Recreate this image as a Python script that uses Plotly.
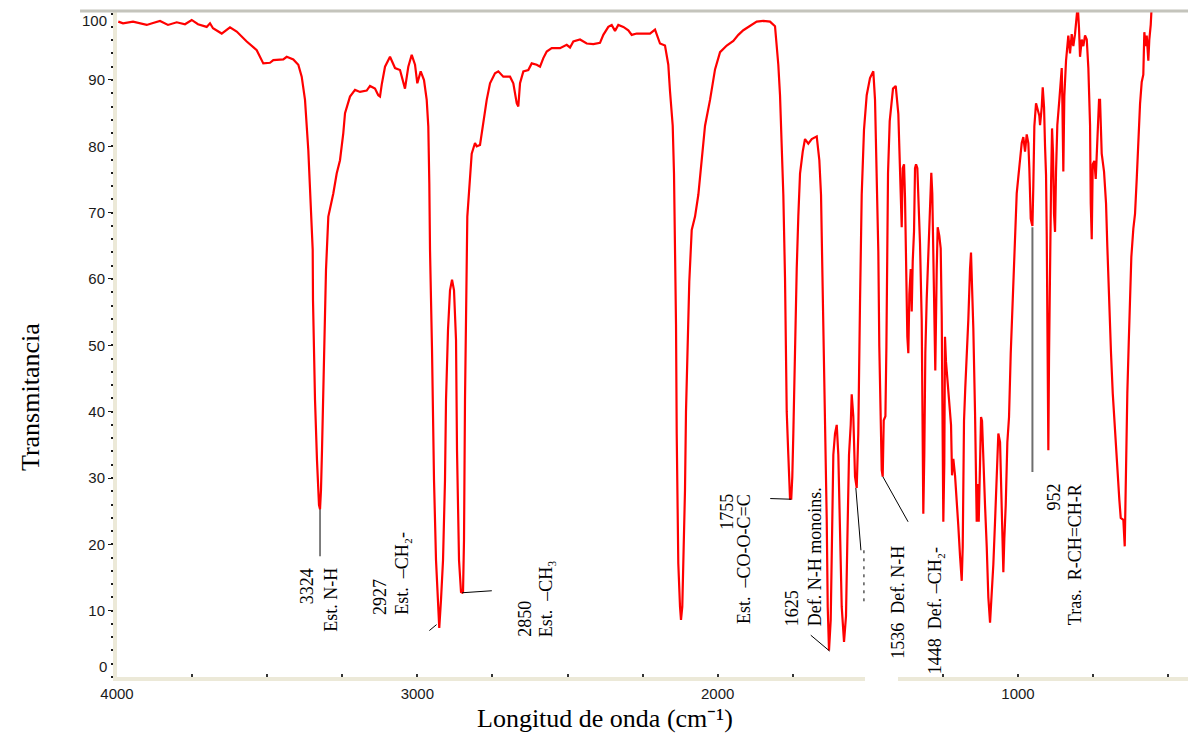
import plotly.graph_objects as go

# IR spectrum: wavenumber (cm-1) and transmittance (%)
wavenumber = [
    3995.7, 3980.0, 3946.7, 3901.1, 3880.1, 3856.8, 3830.2, 3801.2, 3773.6, 3751.3,
    3730.3, 3701.3, 3690.3, 3680.4, 3651.4, 3623.8, 3601.4, 3568.1, 3534.8, 3512.9,
    3490.6, 3479.6, 3446.3, 3434.9, 3412.9, 3396.3, 3385.0, 3374.0, 3363.0, 3357.4,
    3351.7, 3348.4, 3347.4, 3340.7, 3334.1, 3327.4, 3324.0, 3320.8, 3317.4, 3310.8,
    3304.1, 3296.4, 3279.8, 3268.5, 3257.5, 3246.5, 3240.8, 3224.2, 3207.5, 3190.9,
    3168.6, 3157.6, 3141.0, 3130.0, 3124.3, 3118.6, 3107.6, 3091.0, 3074.3, 3057.7,
    3041.1, 3030.1, 3018.7, 3007.7, 3000.1, 2988.8, 2977.8, 2968.8, 2963.5, 2960.1,
    2957.8, 2951.1, 2944.5, 2937.8, 2931.2, 2927.0, 2921.2, 2914.5, 2907.9, 2904.5,
    2897.9, 2891.2, 2884.5, 2877.9, 2871.2, 2867.9, 2861.2, 2854.6, 2850.0, 2847.9,
    2844.6, 2841.3, 2833.6, 2824.6, 2819.0, 2808.0, 2802.3, 2791.3, 2785.6, 2778.0,
    2769.0, 2758.0, 2741.4, 2730.4, 2713.7, 2691.4, 2680.4, 2669.1, 2663.8, 2658.1,
    2647.1, 2630.5, 2619.2, 2602.5, 2591.5, 2580.5, 2569.2, 2552.6, 2525.0, 2502.6,
    2491.6, 2480.6, 2458.3, 2436.0, 2414.0, 2391.8, 2380.7, 2364.1, 2352.8, 2341.8,
    2330.8, 2314.1, 2297.5, 2286.2, 2269.6, 2247.5, 2225.3, 2208.6, 2192.0, 2175.4,
    2164.4, 2158.7, 2149.7, 2145.4, 2142.0, 2138.7, 2136.4, 2134.4, 2131.1, 2125.4,
    2122.1, 2117.8, 2114.4, 2108.8, 2105.5, 2101.1, 2094.5, 2086.4, 2075.4, 2064.4,
    2053.1, 2042.1, 2025.4, 2008.8, 1992.1, 1969.8, 1947.9, 1931.2, 1914.6, 1892.3,
    1870.0, 1848.0, 1825.7, 1809.1, 1803.4, 1798.1, 1792.4, 1786.8, 1781.4, 1775.8,
    1772.5, 1770.1, 1764.8, 1759.1, 1755.0, 1751.5, 1748.1, 1742.5, 1736.8, 1731.5,
    1725.8, 1716.8, 1709.2, 1698.2, 1686.8, 1670.2, 1661.5, 1655.9, 1651.6, 1648.2,
    1642.6, 1636.9, 1633.6, 1629.3, 1623.6, 1620.3, 1614.9, 1609.3, 1603.6, 1598.3,
    1592.6, 1587.0, 1579.3, 1572.7, 1568.3, 1562.7, 1557.0, 1553.7, 1548.4, 1542.7,
    1537.1, 1531.8, 1526.1, 1520.4, 1512.8, 1503.8, 1492.8, 1481.8, 1476.1, 1470.5,
    1465.1, 1461.8, 1457.1, 1453.8, 1450.5, 1447.1, 1441.5, 1438.2, 1432.8, 1427.2,
    1416.2, 1407.2, 1398.5, 1395.2, 1390.5, 1387.2, 1383.9, 1379.5, 1376.2, 1372.9,
    1368.5, 1365.2, 1361.8, 1357.2, 1353.9, 1350.5, 1346.2, 1342.9, 1339.5, 1335.2,
    1331.9, 1326.3, 1320.6, 1317.3, 1315.3, 1312.0, 1308.6, 1304.0, 1298.7, 1293.0,
    1288.7, 1285.4, 1282.0, 1278.7, 1275.4, 1270.7, 1267.4, 1262.0, 1257.4, 1254.0,
    1250.7, 1248.7, 1245.4, 1243.1, 1239.7, 1235.4, 1230.7, 1226.4, 1223.0, 1219.7,
    1215.4, 1209.7, 1204.1, 1198.8, 1193.1, 1187.4, 1184.1, 1179.8, 1175.5, 1170.8,
    1165.5, 1159.8, 1156.5, 1153.1, 1148.8, 1143.1, 1137.5, 1134.1, 1130.8, 1126.4,
    1123.1, 1119.8, 1115.4, 1109.8, 1104.1, 1098.8, 1093.1, 1087.5, 1082.1, 1076.5,
    1070.8, 1065.5, 1059.8, 1056.5, 1052.2, 1048.8, 1045.5, 1040.9, 1035.5, 1029.9,
    1024.2, 1017.6, 1010.9, 1004.3, 998.9, 993.3, 987.6, 982.3, 976.6, 971.0,
    965.6, 962.3, 957.6, 954.3, 952.0, 949.0, 945.6, 940.0, 934.3, 929.0,
    926.6, 921.0, 917.7, 913.3, 910.0, 906.7, 904.3, 901.0, 899.0, 896.7,
    893.4, 890.0, 886.7, 883.4, 880.1, 876.7, 873.4, 869.1, 862.4, 857.8,
    854.4, 852.4, 849.1, 845.8, 840.1, 832.5, 826.8, 821.2, 815.8, 810.2,
    804.5, 801.2, 796.9, 793.5, 787.8, 782.5, 776.8, 771.1, 765.8, 760.1,
    757.8, 754.5, 751.2, 745.9, 741.2, 735.8, 730.2, 726.9, 721.3, 713.6,
    706.9, 702.6, 697.9, 693.6, 690.3, 684.6, 679.3, 673.6, 669.3, 662.6,
    658.0, 649.3, 644.7, 640.3, 636.0, 631.3, 627.0, 622.7, 616.0, 610.4,
    604.7, 599.4, 593.7, 588.1, 582.8, 579.4, 574.8, 571.4, 566.1, 562.8,
    558.1, 554.8,
]
transmittance = [
    98.8, 98.55, 98.8, 98.3, 98.6, 98.9, 98.3, 98.7, 98.4, 99.05,
    98.4, 98.0, 98.55, 97.8, 97.0, 97.95, 97.3, 95.8, 94.5, 92.5,
    92.6, 93.0, 93.1, 93.5, 93.1, 92.3, 90.5, 87.0, 79.4, 74.4,
    67.9, 64.4, 56.8, 41.8, 32.7, 25.9, 25.3, 28.2, 34.2, 49.3,
    61.4, 69.4, 72.9, 75.9, 77.9, 82.0, 85.0, 87.5, 88.5, 88.2,
    88.4, 89.1, 88.7, 87.7, 87.5, 89.3, 92.0, 93.5, 91.8, 91.5,
    88.7, 92.0, 93.8, 92.3, 89.5, 91.3, 90.0, 87.0, 83.0, 74.4,
    64.4, 49.3, 29.7, 17.6, 10.1, 7.4, 11.6, 17.6, 29.7, 41.8,
    52.3, 58.3, 59.9, 58.3, 50.8, 34.2, 17.6, 12.8, 12.7, 12.8,
    20.7, 41.8, 69.4, 75.9, 78.9, 80.5, 80.0, 80.2, 82.0, 84.5,
    87.0, 89.5, 91.0, 91.3, 90.5, 90.5, 89.5, 86.5, 86.0, 89.5,
    91.3, 91.5, 92.5, 92.3, 92.0, 93.3, 94.3, 94.8, 94.8, 95.3,
    94.9, 95.8, 96.1, 95.5, 95.4, 95.6, 96.8, 98.0, 98.3, 97.4,
    98.3, 98.0, 97.5, 96.8, 97.0, 97.0, 97.0, 97.6, 95.5, 95.2,
    92.3, 88.3, 83.1, 75.9, 66.1, 53.1, 36.7, 23.7, 17.1, 10.6,
    8.6, 10.6, 17.1, 28.2, 40.0, 49.8, 59.6, 67.4, 69.4, 72.7,
    78.5, 83.1, 87.0, 91.6, 94.2, 95.2, 95.9, 96.8, 97.5, 98.1,
    98.8, 98.9, 98.8, 98.1, 95.5, 92.3, 87.7, 81.1, 72.7, 60.2,
    49.8, 40.0, 33.5, 26.9, 26.9, 30.2, 36.7, 49.8, 61.5, 69.4,
    75.9, 79.2, 81.1, 80.4, 81.1, 81.5, 77.9, 72.7, 62.9, 53.1,
    36.7, 23.7, 10.6, 4.0, 8.6, 20.4, 33.5, 36.7, 38.0, 33.5,
    20.4, 10.6, 5.3, 9.2, 20.4, 33.5, 38.0, 42.6, 39.3, 30.2,
    28.5, 36.7, 56.3, 72.7, 82.5, 87.7, 90.3, 91.3, 87.0, 75.9,
    64.1, 49.8, 40.0, 31.2, 30.2, 38.7, 39.3, 49.8, 75.9, 83.8,
    88.7, 89.1, 84.9, 80.5, 73.5, 67.8, 76.7, 77.3, 72.2, 62.1,
    51.3, 48.8, 57.7, 61.5, 55.1, 62.7, 67.2, 76.7, 77.3, 76.7,
    72.9, 65.3, 53.8, 37.3, 24.6, 33.5, 48.8, 57.0, 64.0, 72.9,
    76.0, 72.9, 64.0, 54.5, 46.2, 61.5, 67.8, 66.5, 64.6, 54.5,
    38.6, 23.4, 32.3, 51.3, 47.5, 45.0, 43.7, 41.2, 38.0, 30.4,
    32.9, 30.4, 27.2, 22.8, 18.3, 14.5, 19.6, 38.6, 43.7, 48.1,
    53.8, 61.5, 64.0, 58.9, 52.6, 39.9, 23.4, 29.1, 23.4, 32.3,
    39.2, 38.6, 31.6, 25.9, 19.6, 12.0, 8.2, 12.0, 17.0, 23.4,
    32.3, 36.7, 35.4, 29.1, 19.6, 15.8, 20.9, 25.9, 35.4, 39.2,
    48.8, 57.7, 66.5, 72.9, 75.4, 77.9, 80.5, 81.4, 79.2, 81.8,
    80.5, 76.7, 69.1, 68.4, 68.0, 74.1, 83.0, 86.5, 85.3, 84.6,
    83.2, 85.9, 88.9, 85.9, 80.0, 75.7, 66.5, 49.8, 34.2, 48.2,
    66.5, 74.1, 82.7, 78.9, 69.8, 67.1, 76.2, 83.2, 87.0, 90.8,
    91.8, 87.0, 76.2, 87.5, 92.9, 96.7, 94.0, 96.9, 95.1, 96.9,
    99.9, 101.3, 97.8, 93.5, 96.1, 95.1, 96.7, 96.1, 91.8, 83.2,
    71.4, 66.0, 77.3, 77.8, 75.1, 80.5, 87.0, 87.0, 78.9, 76.2,
    71.4, 64.9, 57.9, 53.6, 48.8, 42.8, 38.5, 35.3, 32.1, 26.7,
    24.0, 23.7, 19.7, 34.8, 42.8, 50.4, 57.4, 63.3, 67.6, 69.8,
    75.1, 81.6, 86.4, 89.7, 90.8, 97.2, 95.1, 96.7, 92.9, 96.1,
    98.3, 101.3,
]

# Axis tick values
x_ticks = [4000, 3000, 2000, 1000]
y_ticks = [10, 20, 30, 40, 50, 60, 70, 80, 90]

# Band assignments (each label drawn as rotated columns of text)
band_labels = [
    # text, paper x, paper y, vertical anchor
    ("3324", 0.1777, 0.1652, "top"),
    ("Est. N-H", 0.1995, 0.1652, "top"),
    ("2927", 0.2456, 0.0916, "bottom"),
    ("Est.\u00a0\u00a0\u2013CH\u2082-", 0.2664, 0.0916, "bottom"),
    ("2850", 0.3807, 0.0586, "bottom"),
    ("Est.\u00a0\u00a0\u2013CH\u2083", 0.4012, 0.0586, "bottom"),
    ("1755", 0.5693, 0.2763, "top"),
    ("Est.\u00a0\u00a0\u2013CO-O-C=C", 0.5854, 0.2763, "top"),
    ("1625", 0.6305, 0.0751, "bottom"),
    ("Def. N-H monoins.", 0.6524, 0.0751, "bottom"),
    ("1536\u00a0\u00a0Def. N-H", 0.7286, 0.0255, "bottom"),
    ("1448\u00a0\u00a0Def. \u2013CH\u2082-", 0.7635, 0.0030, "bottom"),
    ("952", 0.8749, 0.2913, "top"),
    ("Tras.\u00a0\u00a0R-CH=CH-R", 0.8951, 0.2913, "top"),
]

# Leader lines from band minima to their labels (x0, y0, x1, y1 in data units)
leaders = [
    (3324, 25.3, 3324, 18.2),
    (2960, 7.0, 2936, 7.9),
    (2851, 12.7, 2752, 13.0),
    (1825, 26.9, 1755, 26.8),
    (1690, 6.3, 1627, 3.9),
    (1540, 28.5, 1523, 19.1),
    (1450, 30.2, 1366, 23.4),
]
marker_952 = (952, 67.8, 952, 30.9)

fig = go.Figure()
fig.add_trace(go.Scatter(
    x=wavenumber, y=transmittance, mode="lines",
    line=dict(color="#ff0000", width=2.2),
    hoverinfo="skip", showlegend=False,
))

shapes = []
for x0, y0, x1, y1 in leaders:
    shapes.append(dict(type="line", xref="x", yref="y", x0=x0, y0=y0, x1=x1, y1=y1,
                       line=dict(color="black", width=1)))
shapes.append(dict(type="line", xref="x", yref="y", x0=marker_952[0], y0=marker_952[1],
                   x1=marker_952[2], y1=marker_952[3], line=dict(color="#6e6e6e", width=2)))
# fragment of a covered label
shapes.append(dict(type="line", xref="x", yref="y", x0=1513, y0=19.1, x1=1513, y1=11.3,
                   line=dict(color="black", width=1, dash="3px,5px")))
# white patch interrupting the wavenumber axis
shapes.append(dict(type="rect", xref="paper", yref="paper", x0=0.6984, x1=0.7292,
                   y0=-0.0195, y1=0.198, fillcolor="white", line=dict(width=0),
                   layer="above"))
# grey frame line along the top
shapes.append(dict(type="line", xref="paper", yref="paper", x0=-0.0345, x1=1.0,
                   y0=1.0, y1=1.0, line=dict(color="#c4c4bc", width=3)))

annotations = []
serif = "Liberation Serif, Times New Roman, serif"
for text, px, py, anchor in band_labels:
    annotations.append(dict(text=text, xref="paper", yref="paper", x=px, y=py,
                            xanchor="center", yanchor=anchor, textangle=-90,
                            showarrow=False, borderpad=0,
                            font=dict(family=serif, size=18, color="black")))

sans = "Liberation Sans, Arial, sans-serif"
# end labels of the transmittance scale sit inside the axis span
for text, py in (("100", 0.985), ("0", 0.0165)):
    annotations.append(dict(text=text, xref="paper", yref="paper", x=-0.0084, y=py,
                            xanchor="right", yanchor="middle", showarrow=False,
                            borderpad=0, font=dict(family=sans, size=15, color="#1a1a1a")))

annotations.append(dict(text="Transmitancia", xref="paper", yref="paper",
                        x=-0.0812, y=0.4204, xanchor="center", yanchor="middle",
                        textangle=-90, showarrow=False,
                        font=dict(family=serif, size=26, color="black")))
annotations.append(dict(text="Longitud de onda (cm\u207b\u00b9)", xref="paper", yref="paper",
                        x=0.4556, y=-0.0616, xanchor="center", yanchor="middle",
                        showarrow=False,
                        font=dict(family=serif, size=26, color="black")))

fig.update_layout(
    width=1188, height=736,
    margin=dict(l=117, r=0, t=11, b=59),
    paper_bgcolor="white", plot_bgcolor="white",
    shapes=shapes, annotations=annotations,
    xaxis=dict(
        range=[4000, 434], tickmode="array", tickvals=x_ticks,
        ticktext=[str(v) for v in x_ticks],
        showgrid=False, zeroline=False,
        showline=True, linecolor="#ece9d8", linewidth=4,
        ticks="inside", ticklen=3, tickwidth=2, tickcolor="#333333",
        minor=dict(tickmode="linear", tick0=0, dtick=250, ticks="inside",
                   ticklen=3, tickwidth=2, tickcolor="#333333"),
        tickfont=dict(family=sans, size=15, color="#1a1a1a"),
    ),
    yaxis=dict(
        range=[0, 100.4], tickmode="array", tickvals=y_ticks,
        ticktext=[str(v) for v in y_ticks],
        showgrid=False, zeroline=False,
        showline=True, linecolor="#ece9d8", linewidth=4,
        ticks="outside", ticklen=5, tickwidth=1, tickcolor="#1a1a1a",
        minor=dict(tickmode="linear", tick0=0, dtick=2, ticks="outside",
                   ticklen=2, tickwidth=2, tickcolor="#1a1a1a"),
        tickfont=dict(family=sans, size=15, color="#1a1a1a"),
    ),
)

fig.write_html("out.html")
